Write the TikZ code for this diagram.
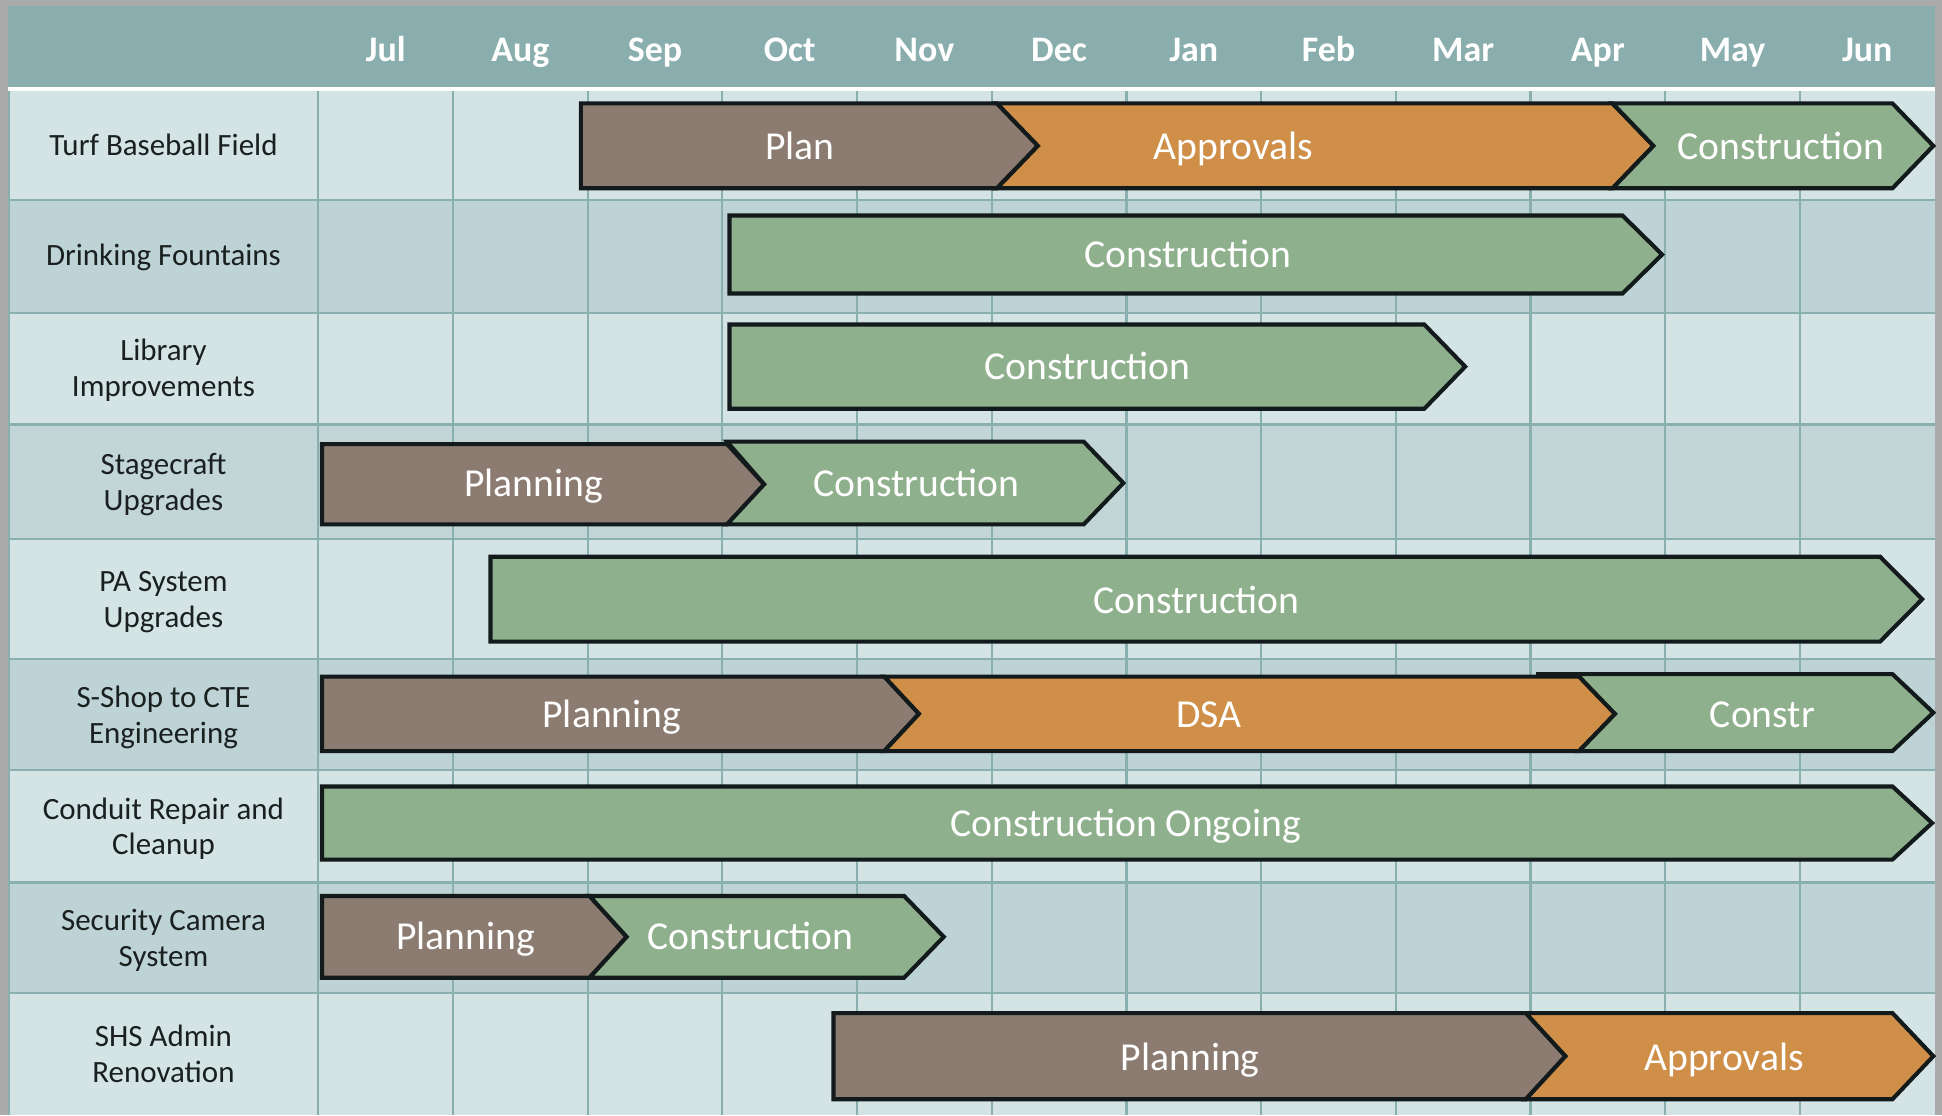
\documentclass[tikz,border=0pt]{standalone}
\usepackage{fontspec}
\setmainfont{Carlito}
\definecolor{outerg}{HTML}{ABABAB}
\definecolor{headc}{HTML}{8AADAD}
\definecolor{rowlight}{HTML}{D4E4E4}
\definecolor{rowdark}{HTML}{BDD3D5}
\definecolor{gridc}{HTML}{8AAFAF}
\definecolor{barline}{HTML}{131A1C}
\definecolor{planc}{HTML}{8B7B70}
\definecolor{apprc}{HTML}{CF8F48}
\definecolor{consc}{HTML}{8FB08C}
\definecolor{labeltext}{HTML}{1A1F20}
\newcommand\ganttseg[7]{% #1 fill, #2 x0, #3 body right, #4 top, #5 bottom, #6 tip depth, #7 notch depth
  \filldraw[bar, fill=#1] (#2,#4) -- (#3,#4) -- ({#3+#6},{(#4+#5)/2}) -- (#3,#5) -- (#2,#5) -- ({#2+#7},{(#4+#5)/2}) -- cycle;}
\begin{document}
\begin{tikzpicture}[x=1pt,y=-1pt,
  bar/.style={draw=barline, line width=3.3pt, line join=miter},
  bartext/.style={text=white, font=\fontsize{32}{38}\selectfont, anchor=base, inner sep=0pt},
  month/.style={text=white, font=\bfseries\fontsize{29}{34}\selectfont, anchor=base, inner sep=0pt},
  rowlabel/.style={text=labeltext, font=\fontsize{25}{28.8}\selectfont, align=center, inner sep=0pt},
  gridline/.style={draw=gridc, line width=1.8pt}]
\useasboundingbox (0,0) rectangle (1568,900.3);
% outer frame and header
\fill[outerg] (0,0) rectangle (1568,900.3);
\fill[headc] (6.5,4.8) rectangle (1562,70.5);
\fill[white] (6.5,70.5) rectangle (1562,73.2);
% row backgrounds
\fill[rowlight] (6.5,73.2) rectangle (1562,161.5);
\fill[rowdark]  (6.5,161.5) rectangle (1562,252.5);
\fill[rowlight] (6.5,252.5) rectangle (1562,342.8);
\fill[rowdark!80!rowlight] (6.5,342.8) rectangle (1562,435.4);
\fill[rowlight] (6.5,435.4) rectangle (1562,532.2);
\fill[rowdark]  (6.5,532.2) rectangle (1562,622);
\fill[rowlight] (6.5,622) rectangle (1562,712.5);
\fill[rowdark]  (6.5,712.5) rectangle (1562,802);
\fill[rowlight] (6.5,802) rectangle (1562,900.3);
% grid
\foreach \k in {0,...,11} {\draw[gridline] ({257+108.75*\k},73.2) -- ({257+108.75*\k},900.3);}
\draw[gridline] (7.3,73.2) -- (7.3,900.3);
\foreach \yy in {161.5,252.5,342.8,435.4,532.2,622,712.5,802} {\draw[gridline] (6.5,\yy) -- (1562,\yy);}
% months
\foreach \m [count=\i from 0] in {Jul,Aug,Sep,Oct,Nov,Dec,Jan,Feb,Mar,Apr,May,Jun}
  {\node[month] (m\i) at ({257+108.75*(\i+0.5)},49.5) {\m};}
% row labels
\node[rowlabel] (l1) at (132,119.5) {\strut Turf Baseball Field\strut};
\node[rowlabel] (l2) at (132,209) {\strut Drinking Fountains\strut};
\node[rowlabel] (l3) at (132,300) {\strut Library\\Improvements\strut};
\node[rowlabel] (l4) at (132,392) {\strut Stagecraft\\Upgrades\strut};
\node[rowlabel] (l5) at (132,486.5) {\strut PA System\\Upgrades\strut};
\node[rowlabel] (l6) at (132,580) {\strut S-Shop to CTE\\Engineering\strut};
\node[rowlabel] (l7) at (132,670) {\strut Conduit Repair and\\Cleanup\strut};
\node[rowlabel] (l8) at (132,760) {\strut Security Camera\\System\strut};
\node[rowlabel] (l9) at (132,853.5) {\strut SHS Admin\\Renovation\strut};
% row 1: Turf Baseball Field
\ganttseg{planc}{469}{805}{83.5}{152}{33}{0}
\ganttseg{apprc}{805}{1302}{83.5}{152}{33}{33}
\ganttseg{consc}{1302}{1528}{83.5}{152}{33}{33}
\node[bartext] (b1a) at (646,128.5) {Plan};
\node[bartext] (b1b) at (996,128.5) {Approvals};
\node[bartext] (b1c) at (1438,128.5) {Construction};
% row 2: Drinking Fountains
\ganttseg{consc}{589}{1310}{174}{237}{32}{0}
\node[bartext] (b2a) at (959,216) {Construction};
% row 3: Library
\ganttseg{consc}{589}{1150}{262}{330}{33}{0}
\node[bartext] (b3a) at (878,306.5) {Construction};
% row 4: Stagecraft
\ganttseg{planc}{260}{587}{358.6}{423.4}{30}{0}
\filldraw[bar, fill=consc] (587,356.6) -- (875,356.6) -- (907,390) -- (875,423.4) -- (587,423.4) -- (617,391) -- cycle;
\node[bartext] (b4a) at (431,401) {Planning};
\node[bartext] (b4b) at (740,401) {Construction};
% row 5: PA System
\ganttseg{consc}{396}{1518}{449.5}{518}{34}{0}
\node[bartext] (b5a) at (966,495) {Construction};
% row 6: S-Shop
\ganttseg{planc}{260}{714}{546.3}{606.4}{28}{0}
\ganttseg{apprc}{714}{1275}{546.3}{606.4}{29}{28}
\filldraw[bar, fill=consc] (1275,544.3) -- (1528,544.3) -- (1561,575.4) -- (1528,606.4) -- (1275,606.4) -- (1304,576.4) -- (1275,546.3) -- cycle;
\draw[draw=barline, line width=3.3pt] (1240,544.3) -- (1290,544.3);
\node[bartext] (b6a) at (494,587) {Planning};
\node[bartext] (b6b) at (976,587) {DSA};
\node[bartext] (b6c) at (1423,587) {Constr};
% row 7: Conduit
\ganttseg{consc}{260}{1528}{635}{694}{32}{0}
\node[bartext] (b7a) at (909,675) {Construction Ongoing};
% row 8: Security Camera
\ganttseg{planc}{260}{476}{723.4}{789.4}{30}{0}
\ganttseg{consc}{476}{730}{723.4}{789.4}{32}{30}
\node[bartext] (b8a) at (376,767) {Planning};
\node[bartext] (b8b) at (606,767) {Construction};
% row 9: SHS Admin
\ganttseg{planc}{673}{1232}{818}{887.5}{32}{0}
\ganttseg{apprc}{1232}{1528}{818}{887.5}{33}{32}
\node[bartext] (b9a) at (961,864) {Planning};
\node[bartext] (b9b) at (1392,864) {Approvals};
\end{tikzpicture}
\end{document}
